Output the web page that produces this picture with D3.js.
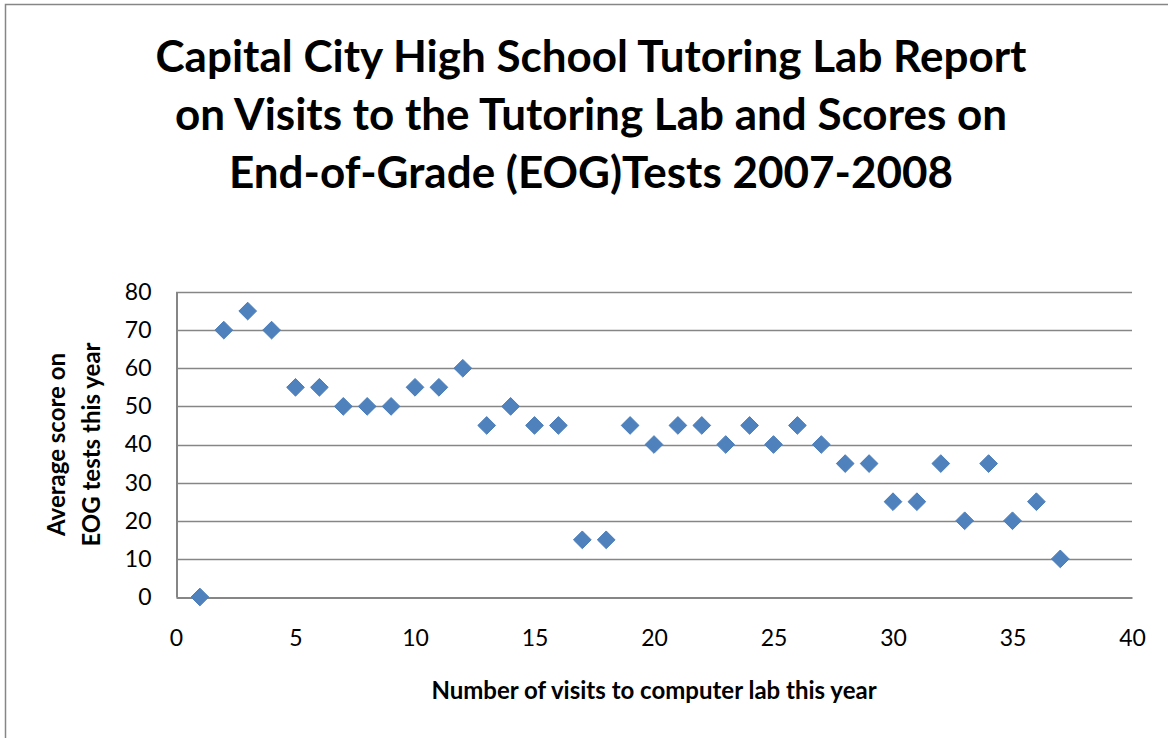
<!DOCTYPE html>
<html>
<head>
<meta charset="utf-8">
<script src="https://cdn.jsdelivr.net/npm/d3@7"></script>
<style>
  body { margin: 0; background: white; }
  text { font-family: Lato, "Open Sans", sans-serif; }
</style>
</head>
<body>
<div id="chart"></div>
<script>
// visits to the lab (x) and average EOG score (y)
const visits = [1, 2, 3, 4, 5, 6, 7, 8, 9, 10, 11, 12, 13, 14, 15, 16, 17, 18, 19,
  20, 21, 22, 23, 24, 25, 26, 27, 28, 29, 30, 31, 32, 33, 34, 35, 36, 37];
const scores = [0, 70, 75, 70, 55, 55, 50, 50, 50, 55, 55, 60, 45, 50, 45, 45, 15, 15, 45,
  40, 45, 45, 40, 45, 40, 45, 40, 35, 35, 25, 25, 35, 20, 35, 20, 25, 10];
const xTicks = [0, 5, 10, 15, 20, 25, 30, 35, 40];
const yTicks = [0, 10, 20, 30, 40, 50, 60, 70, 80];
const titleLines = [
  "Capital City High School Tutoring Lab Report",
  "on Visits to the Tutoring Lab and Scores on",
  "End-of-Grade (EOG)Tests 2007-2008"
];
const yTitleLines = ["Average score on", "EOG tests this year"];
const xTitle = "Number of visits to computer lab this year";

const data = visits.map((v, i) => ({ x: v, y: scores[i] }));

let width = 1168, height = 738;
let margin = { top: 292, bottom: 141, left: 176, right: 36 };

let svg = d3.select('#chart')
  .append('svg')
  .attr('width', width)
  .attr('height', height)
  .style('background', 'white');

// outer chart border
svg.append('rect')
  .attr('x', 5.5).attr('y', 4.5)
  .attr('width', 1170).attr('height', 760)
  .attr('fill', 'none')
  .attr('stroke', '#868686')
  .attr('stroke-width', 1.5);

let xScale = d3.scaleLinear()
  .domain([0, 40])
  .range([margin.left, width - margin.right]);

let yScale = d3.scaleLinear()
  .domain([0, 80])
  .range([height - margin.bottom, margin.top]);

// gridlines
svg.append('g')
  .selectAll('line')
  .data(yTicks.slice(1))
  .enter()
  .append('line')
    .attr('x1', xScale(0))
    .attr('x2', xScale(40))
    .attr('y1', d => Math.round(yScale(d)) + 0.5)
    .attr('y2', d => Math.round(yScale(d)) + 0.5)
    .attr('stroke', '#868686')
    .attr('stroke-width', 1.3);

// x axis
let xAxis = svg.append('g')
  .attr('transform', `translate(0,${Math.round(yScale(0)) + 0.5})`)
  .call(d3.axisBottom(xScale).tickValues(xTicks).tickSize(0).tickPadding(32));
xAxis.select('.domain').attr('stroke', '#868686').attr('stroke-width', 2);
xAxis.selectAll('text').attr('font-size', 23).attr('fill', '#000')
  .style('font-family', 'Lato, "Open Sans", sans-serif');

// y axis
let yAxis = svg.append('g')
  .attr('transform', `translate(${Math.round(xScale(0)) + 0.5},0)`)
  .call(d3.axisLeft(yScale).tickValues(yTicks).tickSize(0).tickPadding(25));
yAxis.select('.domain').attr('stroke', '#868686').attr('stroke-width', 2);
yAxis.selectAll('text').attr('font-size', 23).attr('fill', '#000')
  .style('font-family', 'Lato, "Open Sans", sans-serif');

// markers
let diamond = d3.symbol().type(d3.symbolDiamond2).size(200);
svg.append('g')
  .selectAll('path')
  .data(data)
  .enter()
  .append('path')
    .attr('d', diamond)
    .attr('transform', d => `translate(${xScale(d.x)},${yScale(d.y)})`)
    .attr('fill', '#4f81bd')
    .attr('stroke', '#4a7ebb')
    .attr('stroke-width', 1);

// title
svg.append('g')
  .selectAll('text')
  .data(titleLines)
  .enter()
  .append('text')
    .attr('x', 591)
    .attr('y', (d, i) => 72 + i * 58)
    .attr('text-anchor', 'middle')
    .attr('font-size', 44)
    .attr('font-weight', 'bold')
    .text(d => d);

// y axis title
svg.append('g')
  .attr('transform', `translate(0,${(yScale(0) + yScale(80)) / 2}) rotate(-90)`)
  .selectAll('text')
  .data(yTitleLines)
  .enter()
  .append('text')
    .attr('x', 0)
    .attr('y', (d, i) => 65 + i * 35)
    .attr('text-anchor', 'middle')
    .attr('font-size', 24)
    .attr('font-weight', 'bold')
    .text(d => d);

// x axis title
svg.append('text')
  .attr('x', 654)
  .attr('y', 699)
  .attr('text-anchor', 'middle')
  .attr('font-size', 24)
  .attr('font-weight', 'bold')
  .text(xTitle);
</script>
</body>
</html>
